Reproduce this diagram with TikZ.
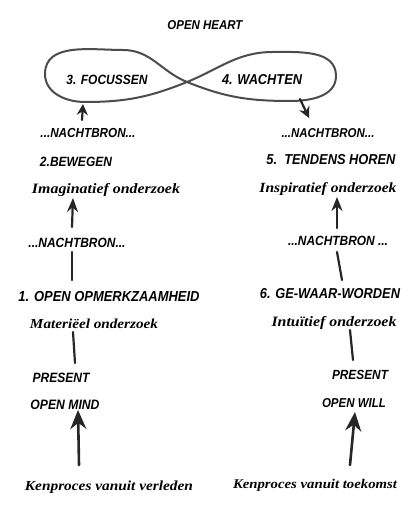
\documentclass[tikz,border=0pt]{standalone}
\usepackage{fontspec}
\setmainfont{Liberation Sans}
\newfontfamily\scrfont{Liberation Serif}
\usepackage{graphicx}
\usetikzlibrary{arrows.meta}
\newcommand\capw[2]{\scalebox{1}[1.12]{\resizebox{#1pt}{!}{\bfseries\itshape #2}}}
\newcommand\scrw[2]{\scalebox{1}[0.9]{\resizebox{#1pt}{!}{\scrfont\bfseries\itshape #2}}}
\begin{document}
\begin{tikzpicture}[x=1pt,y=1pt,
  lbl/.style={inner sep=0pt, anchor=center, text=black},
  pencil/.style={draw=black!85, line width=2.2pt, line cap=round},
  loopline/.style={draw=black!70, line width=2pt},
  arrsmall/.style={pencil, -{Stealth[length=14pt,width=11pt]}},
  arrbig/.style={pencil, line width=2.6pt, -{Stealth[length=19pt,width=16pt]}},
  arrloop/.style={pencil, -{Stealth[length=11pt,width=11pt]}}]
\useasboundingbox (0,0) rectangle (420,511);
\fill[white] (0,0) rectangle (420,511);
% texts
\node[lbl] (heart) at (205,486) {\capw{75}{OPEN HEART}};
\node[lbl] (foc)   at (107,431) {\capw{81}{3. FOCUSSEN}};
\node[lbl] (wach)  at (262,431) {\capw{80}{4. WACHTEN}};
\node[lbl] (nbLa)  at (88,378)  {\capw{95}{...NACHTBRON...}};
\node[lbl] (nbRa)  at (328,378) {\capw{93}{...NACHTBRON...}};
\node[lbl] (bew)   at (76,349)  {\capw{72}{2.BEWEGEN}};
\node[lbl] (ten)   at (331,351) {\capw{129}{5.\ \ TENDENS HOREN}};
\node[lbl] (imag)  at (106,321) {\scrw{148}{Imaginatief onderzoek}};
\node[lbl] (insp)  at (328,322) {\scrw{137}{Inspiratief onderzoek}};
\node[lbl] (nbLb)  at (77,268)  {\capw{97}{...NACHTBRON...}};
\node[lbl] (nbRb)  at (338,270) {\capw{100}{...NACHTBRON ...}};
\node[lbl] (opm)   at (109,214) {\capw{181}{1. OPEN OPMERKZAAMHEID}};
\node[lbl] (gew)   at (330,217) {\capw{140}{6. GE-WAAR-WORDEN}};
\node[lbl] (mat)   at (94,187)  {\scrw{128}{Materiëel onderzoek}};
\node[lbl] (intu)  at (334,188) {\scrw{125}{Intuïtief onderzoek}};
\node[lbl] (presL) at (61,133)  {\capw{57}{PRESENT}};
\node[lbl] (presR) at (360,136) {\capw{56}{PRESENT}};
\node[lbl] (mind)  at (65,106)  {\capw{69}{OPEN MIND}};
\node[lbl] (will)  at (354,108) {\capw{64}{OPEN WILL}};
\node[lbl] (kenL)  at (109,24)  {\scrw{168}{Kenproces vanuit verleden}};
\node[lbl] (kenR)  at (315,26)  {\scrw{164}{Kenproces vanuit toekomst}};
% infinity loop
\coordinate (cx) at (187,429);
\coordinate (rt) at (273,459);
\coordinate (rr) at (336,435);
\coordinate (rb) at (290,410);
\coordinate (lt) at (123,461);
\coordinate (ll) at (45,437);
\coordinate (lb) at (85,409);
\draw[loopline] (cx) to[out=22,in=180] (rt) to[out=0,in=90] (rr)
  to[out=-90,in=0] (rb) to[out=180,in=-22] (cx)
  to[out=158,in=0] (lt) to[out=180,in=90] (ll)
  to[out=-90,in=180] (lb) to[out=0,in=-158] (cx);
% connector end points
\coordinate (lpa) at (82,391);  \coordinate (lpb) at (83,407);
\coordinate (rpa) at (300,412); \coordinate (rpb) at (309,393);
\coordinate (a1s) at (72,284);  \coordinate (a1e) at (73,313);
\coordinate (s1s) at (72,259);  \coordinate (s1e) at (72,231);
\coordinate (s2s) at (73,179);  \coordinate (s2e) at (75,148);
\coordinate (a2s) at (79,46);   \coordinate (a2e) at (78,101);
\coordinate (a3s) at (337,283); \coordinate (a3e) at (337,314);
\coordinate (s3s) at (337,259); \coordinate (s3e) at (342,231);
\coordinate (s4s) at (350,181); \coordinate (s4e) at (353,151);
\coordinate (a4s) at (350,46);  \coordinate (a4e) at (355,99);
% connectors
\draw[arrloop] (lpa) -- (lpb);
\draw[arrloop] (rpa) -- (rpb);
\draw[arrsmall] (a1s) -- (a1e);
\draw[pencil] (s1s) -- (s1e);
\draw[pencil] (s2s) -- (s2e);
\draw[arrbig] (a2s) -- (a2e);
\draw[arrsmall] (a3s) -- (a3e);
\draw[pencil] (s3s) -- (s3e);
\draw[pencil] (s4s) -- (s4e);
\draw[arrbig] (a4s) -- (a4e);
\end{tikzpicture}
\end{document}
